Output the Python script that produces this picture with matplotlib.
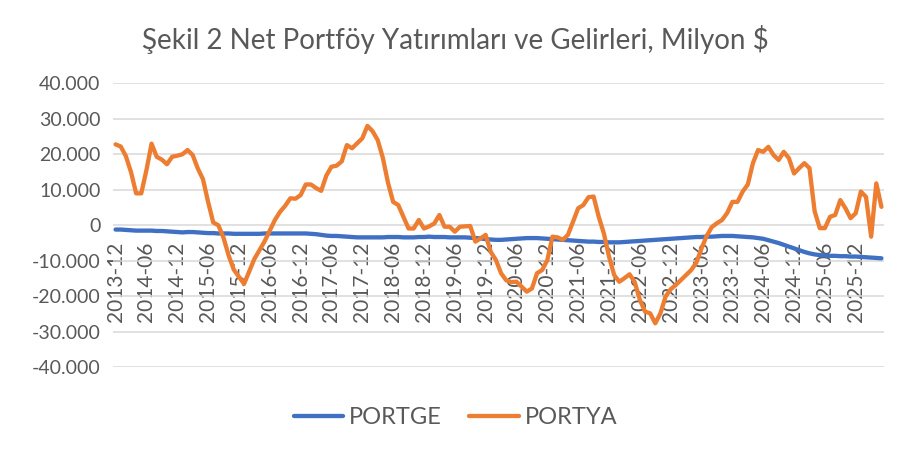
import matplotlib
matplotlib.use("Agg")
import matplotlib.pyplot as plt
from matplotlib.ticker import FuncFormatter, FixedLocator

plt.rcParams['font.family'] = ['Lato', 'DejaVu Sans']

title = "Şekil 2 Net Portföy Yatırımları ve Gelirleri, Milyon $"

# monthly data starting 2013-12
start_year, start_month = 2013, 12
n_months = 150

portge = [
    -1.2, -1.2, -1.3, -1.4, -1.5, -1.5, -1.5, -1.5, -1.6, -1.6, -1.7,
    -1.8, -1.9, -2.0, -1.9, -1.9, -2.0, -2.1, -2.2, -2.2, -2.3,
    -2.3, -2.3, -2.4, -2.4, -2.4, -2.4, -2.4, -2.4, -2.3, -2.3,
    -2.3, -2.3, -2.3, -2.3, -2.3, -2.3, -2.3, -2.4, -2.5, -2.7,
    -2.9, -3.0, -3.0, -3.1, -3.2, -3.3, -3.4, -3.4, -3.4, -3.4,
    -3.4, -3.4, -3.3, -3.3, -3.3, -3.4, -3.4, -3.4, -3.3, -3.3,
    -3.2, -3.3, -3.3, -3.3, -3.4, -3.4, -3.4, -3.4, -3.5, -3.6,
    -3.7, -3.9, -4.0, -4.1, -4.1, -4.0, -3.9, -3.8, -3.7, -3.6,
    -3.6, -3.6, -3.7, -3.8, -3.9, -4.0, -4.1, -4.2, -4.3, -4.4,
    -4.5, -4.6, -4.6, -4.7, -4.7, -4.8, -4.8, -4.8, -4.7, -4.6,
    -4.5, -4.4, -4.3, -4.2, -4.1, -4.0, -3.9, -3.8, -3.7, -3.6,
    -3.5, -3.4, -3.3, -3.3, -3.2, -3.2, -3.1, -3.0, -3.0, -3.0,
    -3.1, -3.2, -3.3, -3.4, -3.6, -3.8, -4.2, -4.6, -5.0, -5.5,
    -6.0, -6.5, -7.0, -7.5, -7.9, -8.2, -8.4, -8.5, -8.6, -8.6,
    -8.7, -8.7, -8.8, -8.8, -8.9, -9.0, -9.1, -9.2, -9.3,
]

portya = [
    22.8, 22.2, 19.5, 15.0, 9.0, 9.0, 15.5, 23.0, 19.3, 18.5,
    17.2, 19.3, 19.6, 20.0, 21.2, 19.8, 16.0, 13.0, 6.6, 0.8,
    0.0, -3.5, -8.5, -12.5, -14.5, -16.5, -13.0, -9.5, -7.0, -4.5,
    -1.5, 1.5, 3.8, 5.5, 7.6, 7.5, 8.5, 11.5, 11.5, 10.5,
    9.7, 14.0, 16.5, 16.8, 18.0, 22.6, 21.7, 23.1, 24.5, 28.0,
    26.5, 24.0, 19.0, 12.0, 6.6, 5.7, 2.4, -0.9, -0.9, 1.5,
    -0.9, -0.3, 0.5, 2.9, -0.4, -0.4, -1.8, -0.4, -0.3, -0.2,
    -4.6, -3.7, -2.7, -7.5, -9.8, -13.5, -15.5, -16.0, -15.9, -17.3,
    -18.7, -17.8, -13.5, -12.6, -9.8, -3.2, -3.4, -4.1, -2.7, 1.0,
    4.8, 5.7, 7.9, 8.1, 2.4, -2.3, -8.8, -14.0, -15.9, -14.9,
    -13.8, -16.0, -21.0, -24.3, -24.8, -27.6, -24.8, -20.1, -18.0, -16.8,
    -15.4, -14.0, -12.6, -10.5, -6.5, -3.0, -0.5, 0.6, 1.5, 3.5,
    6.6, 6.6, 9.5, 11.5, 17.5, 21.2, 20.7, 22.1, 19.8, 18.4,
    20.7, 18.9, 14.6, 16.1, 17.5, 16.1, 4.0, -0.8, -0.8, 2.4,
    2.9, 7.1, 4.8, 2.0, 3.4, 9.5, 8.0, -3.2, 11.8, 5.2,
]

# month labels
labels = []
y, m = start_year, start_month
for _ in range(n_months):
    labels.append(f"{y}-{m:02d}")
    m += 1
    if m > 12:
        m = 1
        y += 1

x = list(range(n_months))
ge_vals = [v * 1000 for v in portge]
ya_vals = [v * 1000 for v in portya]

blue = '#4070C4'
orange = '#ED7D31'
grey_txt = '#595959'

fig = plt.figure(figsize=(9.11, 4.55), dpi=100)
ax = fig.add_axes([113/911, 1 - 367.3/455, (884-113)/911, (367.3-83.3)/455])

ax.plot(x, ge_vals, color=blue, lw=3.1, solid_capstyle='round', solid_joinstyle='round', label='PORTGE', zorder=3)
ax.plot(x, ya_vals, color=orange, lw=3.1, solid_capstyle='round', solid_joinstyle='round', label='PORTYA', zorder=4)

ax.set_xlim(-0.5, n_months - 0.5)
ax.set_ylim(-40000, 40000)
ax.set_yticks(range(-40000, 40001, 10000))
ax.yaxis.set_major_formatter(FuncFormatter(lambda v, p: f"{v:,.0f}".replace(",", ".")))
ax.grid(axis='y', color='#D9D9D9', lw=1.1)
ax.set_axisbelow(True)

tick_pos = list(range(0, n_months, 6))
ax.xaxis.set_major_locator(FixedLocator(tick_pos))
ax.set_xticklabels([labels[i] for i in tick_pos])
ax.spines['bottom'].set_position(('data', 0))
for s in ax.spines.values():
    s.set_visible(False)
ax.tick_params(axis='x', length=0, pad=12, labelrotation=90, labelsize=15, labelcolor=grey_txt)
ax.tick_params(axis='y', length=0, pad=9, labelsize=14, labelcolor=grey_txt)

fig.text(0.5, 1 - 40/455, title, ha='center', va='center', fontsize=20, color=grey_txt)

fig.legend(loc='center', bbox_to_anchor=(0.5, 1 - 418/455), ncol=2, frameon=False,
           fontsize=17, labelcolor=grey_txt, handlelength=2.1, handletextpad=0.25,
           columnspacing=1.15)

fig.savefig('out.png', dpi=100)
